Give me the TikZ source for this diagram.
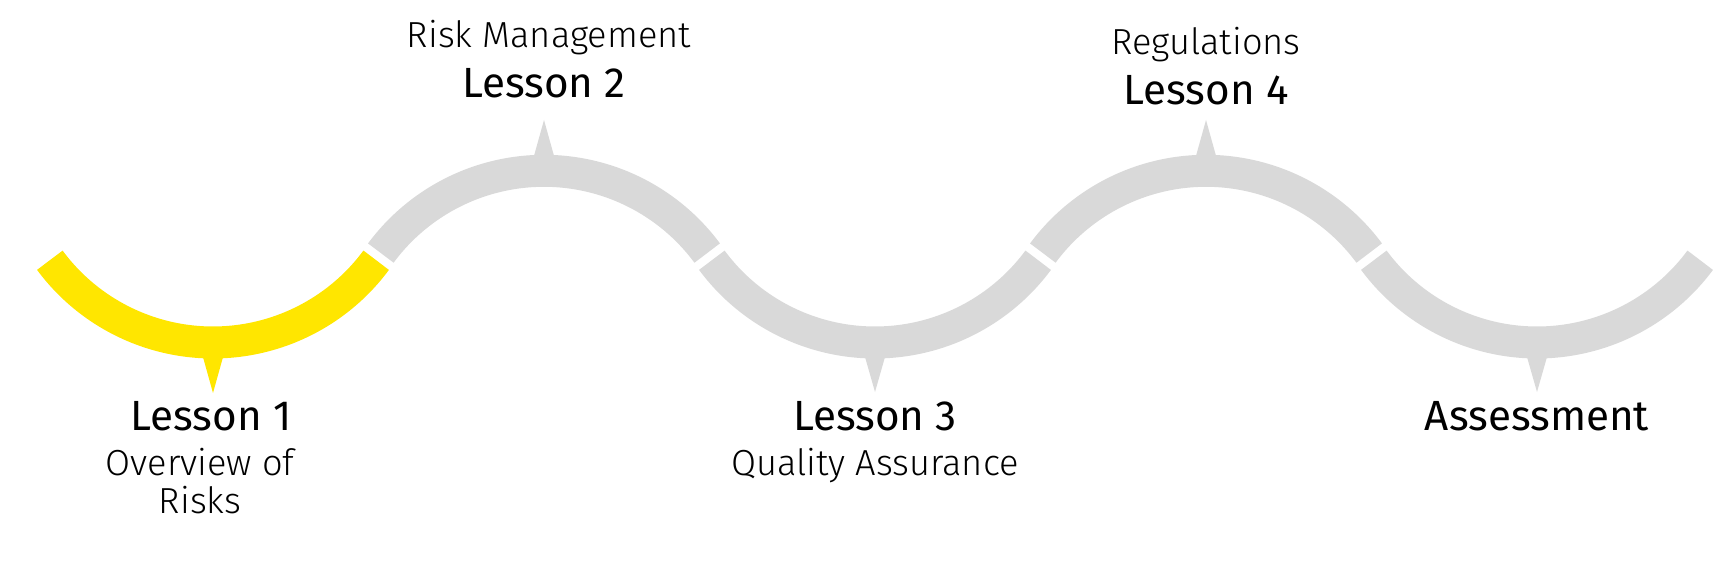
\documentclass[tikz,border=0pt]{standalone}
\usepackage{fontspec}
\setmainfont{Fira Sans}
\newfontfamily\lightfont{Fira Sans Light}
\definecolor{eyyellow}{HTML}{FFE600}
\definecolor{trackgray}{HTML}{D9D9D9}
\begin{document}
\begin{tikzpicture}[x=0.01cm,y=-0.01cm,
    band/.style={line width=0.32cm},
    title/.style={anchor=base,inner sep=0pt,font=\fontsize{12}{14}\selectfont},
    sub/.style={anchor=base,inner sep=0pt,font=\lightfont\fontsize{10.3}{12}\selectfont}]
    \useasboundingbox (0,0) rectangle (1713,561);

    \draw[band,eyyellow] ([shift={(143.5:203)}]213,139.5) arc[start angle=143.5,end angle=36.5,radius=203];
    \draw[band,trackgray] ([shift={(216.5:203)}]544,373.8) arc[start angle=216.5,end angle=323.5,radius=203];
    \draw[band,trackgray] ([shift={(143.5:203)}]875,139.5) arc[start angle=143.5,end angle=36.5,radius=203];
    \draw[band,trackgray] ([shift={(216.5:203)}]1206,373.8) arc[start angle=216.5,end angle=323.5,radius=203];
    \draw[band,trackgray] ([shift={(143.5:203)}]1537,139.5) arc[start angle=143.5,end angle=36.5,radius=203];

    \fill[eyyellow] (201,350) -- (213,393) -- (225,350) -- cycle;
    \fill[trackgray] (532,163) -- (544,120) -- (556,163) -- cycle;
    \fill[trackgray] (863,350) -- (875,392) -- (887,350) -- cycle;
    \fill[trackgray] (1194,163) -- (1206,120) -- (1218,163) -- cycle;
    \fill[trackgray] (1525,350) -- (1537,392) -- (1549,350) -- cycle;

    \node[title] (Lesson1) at (211,430) {Lesson 1};
    \node[sub] (Overview) at (200,475) {Overview of};
    \node[sub] (Risks) at (200,513) {Risks};

    \node[sub] (RiskMgmt) at (549,48) {Risk Management};
    \node[title] (Lesson2) at (544,98) {Lesson 2};

    \node[title] (Lesson3) at (875,430) {Lesson 3};
    \node[sub] (Quality) at (875,475) {Quality Assurance};

    \node[sub] (Regulations) at (1206,55) {Regulations};
    \node[title] (Lesson4) at (1206,105) {Lesson 4};

    \node[title] (Assessment) at (1537,430) {Assessment};
\end{tikzpicture}
\end{document}
